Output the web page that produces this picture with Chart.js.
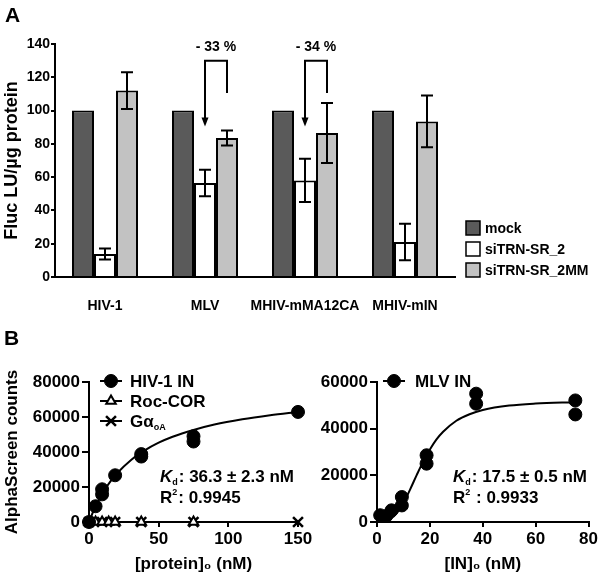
<!DOCTYPE html>
<html><head><meta charset="utf-8">
<script src="https://cdn.jsdelivr.net/npm/chart.js@4.4.1/dist/chart.umd.min.js"></script>
<style>
html,body{margin:0;padding:0;background:#fff;width:600px;height:576px;overflow:hidden;position:relative}
canvas{position:absolute}
#cA{left:0;top:0}
#cB1{left:0;top:330px}
#cB2{left:300px;top:330px}
.lbl{position:absolute;font:bold 21px 'Liberation Sans',Arial,sans-serif;color:#000;z-index:5}
</style></head><body>
<canvas id="cA" width="600" height="320"></canvas>
<canvas id="cB1" width="330" height="246"></canvas>
<canvas id="cB2" width="300" height="246"></canvas>
<div class="lbl" style="left:5px;top:3px">A</div>
<div class="lbl" style="left:4px;top:326px">B</div>
<script>
// ---------- Panel A data ----------
const categories = ['HIV-1', 'MLV', 'MHIV-mMA12CA', 'MHIV-mIN'];
const seriesNamesA = ['mock', 'siTRN-SR_2', 'siTRN-SR_2MM'];
const mockValues = [100, 100, 100, 100];
const siValues = [13.8, 56.5, 58, 21];
const siErrors = [3.3, 8, 13, 11];
const mmValues = [112, 83.5, 86.5, 93.5];
const mmErrors = [11, 4.5, 18, 15.5];
const reductionLabels = ['', '- 33 %', '- 34 %', ''];
const yTicksA = [0, 20, 40, 60, 80, 100, 120, 140];

// ---------- Panel B (left) data ----------
const hivX = [0, 4.7, 9.4, 9.4, 18.75, 37.5, 37.5, 75, 75, 150];
const hivY = [0, 9000, 18700, 15800, 26700, 38800, 37400, 49000, 46000, 62900];
const rocX = [0, 4.7, 9.4, 14.1, 18.75, 37.5, 75];
const rocY = [0, 0, 0, 0, 0, 0, 0];
const gaX = [0, 9.4, 18.75, 37.5, 75, 150];
const gaY = [0, 0, 0, 0, 0, 0];
const hivFitX = [0, 2.5, 5, 10, 15, 20, 30, 40, 50, 60, 75, 90, 110, 130, 150];
const hivFitY = [0, 5000, 9500, 16900, 22800, 27700, 35300, 40900, 45300, 48700, 52600, 55700, 58700, 61000, 62900];
const xTicksB1 = [0, 50, 100, 150];
const yTicksB1 = [0, 20000, 40000, 60000, 80000];
const seriesNamesB1 = ['HIV-1 IN', 'Roc-COR', 'Gα_oA'];
const kdTextB1 = ': 36.3 ± 2.3 nM';
const r2TextB1 = ': 0.9945';

// ---------- Panel B (right) data ----------
const mlvX = [1.2, 3.5, 5.5, 9.4, 9.4, 18.75, 18.75, 37.5, 37.5, 75, 75];
const mlvY = [2900, 2600, 5000, 10700, 7100, 28600, 25000, 55000, 50700, 52100, 46100];
const mlvFitX = [0, 2.5, 5, 7.5, 10, 12.5, 15, 17.5, 20, 22.5, 25, 30, 35, 40, 50, 60, 75];
const mlvFitY = [0, 150, 1200, 3800, 8200, 13900, 20100, 26000, 31100, 35400, 38700, 43400, 46200, 48000, 49900, 50750, 51350];
const xTicksB2 = [0, 20, 40, 60, 80];
const yTicksB2 = [0, 20000, 40000, 60000];
const seriesNamesB2 = ['MLV IN'];
const kdTextB2 = ': 17.5 ± 0.5 nM';
const r2TextB2 = ' : 0.9933';

const SANS = "'Liberation Sans',Arial,sans-serif";

function drawRich(ctx, parts, x, y, size, family) {
  let cx = x;
  ctx.save();
  ctx.textBaseline = 'middle'; ctx.textAlign = 'left'; ctx.fillStyle = '#000';
  for (const p of parts) {
    const s = (p.sub || p.sup) ? Math.round(size * 0.5) : size;
    ctx.font = (p.italic ? 'italic ' : '') + 'bold ' + s + 'px ' + family;
    const dy = p.sub ? size * 0.32 : (p.sup ? -size * 0.35 : 0);
    ctx.fillText(p.t, cx, y + dy);
    cx += ctx.measureText(p.t).width + (p.sub || p.sup ? 1 : 0);
  }
  ctx.restore();
}
function labelParts(label) {
  const i = label.indexOf('_');
  if (i < 0) return [{t: label}];
  return [{t: label.slice(0, i)}, {t: label.slice(i + 1), sub: true}];
}

// ---------- Panel A ----------
const pluginA = {
  id: 'pluginA',
  afterDatasetsDraw(chart) {
    const ctx = chart.ctx, ys = chart.scales.y;
    ctx.save();
    ctx.strokeStyle = '#000'; ctx.fillStyle = '#000'; ctx.lineWidth = 2;
    // error bars
    chart.data.datasets.forEach((ds, d) => {
      if (!ds.errors) return;
      chart.getDatasetMeta(d).data.forEach((el, i) => {
        const v = ds.data[i], e = ds.errors[i];
        const yt = ys.getPixelForValue(v + e), yb = ys.getPixelForValue(v - e);
        ctx.beginPath();
        ctx.moveTo(el.x, yt); ctx.lineTo(el.x, yb);
        ctx.moveTo(el.x - 6, yt); ctx.lineTo(el.x + 6, yt);
        ctx.moveTo(el.x - 6, yb); ctx.lineTo(el.x + 6, yb);
        ctx.stroke();
      });
    });
    // reduction brackets
    const m1 = chart.getDatasetMeta(1).data, m2 = chart.getDatasetMeta(2).data;
    reductionLabels.forEach((lab, i) => {
      if (!lab) return;
      const xl = m1[i].x, xr = m2[i].x;
      const yTop = ys.getPixelForValue(130), yTip = ys.getPixelForValue(90.5), yR = ys.getPixelForValue(110.5);
      ctx.beginPath();
      ctx.moveTo(xr, yR); ctx.lineTo(xr, yTop); ctx.lineTo(xl, yTop); ctx.lineTo(xl, yTip - 7);
      ctx.stroke();
      ctx.beginPath();
      ctx.moveTo(xl - 3.5, yTip - 9); ctx.lineTo(xl + 3.5, yTip - 9); ctx.lineTo(xl, yTip); ctx.closePath();
      ctx.fill();
      ctx.font = 'bold 14px ' + SANS; ctx.textAlign = 'center'; ctx.textBaseline = 'middle';
      ctx.fillText(lab, (xl + xr) / 2, ys.getPixelForValue(138));
    });
    // legend
    chart.data.datasets.forEach((ds, d) => {
      const y = 228 + d * 21;
      ctx.fillStyle = ds.backgroundColor;
      ctx.fillRect(466, y - 7, 14, 14);
      ctx.lineWidth = 1.5; ctx.strokeStyle = '#000';
      ctx.strokeRect(466, y - 7, 14, 14);
      ctx.fillStyle = '#000';
      ctx.font = 'bold 14px ' + SANS; ctx.textAlign = 'left'; ctx.textBaseline = 'middle';
      ctx.fillText(ds.label, 485, y + 1);
    });
    ctx.restore();
  }
};

new Chart(document.getElementById('cA'), {
  type: 'bar',
  data: {
    labels: categories,
    datasets: [
      {label: seriesNamesA[0], data: mockValues, backgroundColor: '#5a5a5a'},
      {label: seriesNamesA[1], data: siValues, errors: siErrors, backgroundColor: '#ffffff'},
      {label: seriesNamesA[2], data: mmValues, errors: mmErrors, backgroundColor: '#c2c2c2'}
    ].map(d => Object.assign(d, {borderColor: '#000', borderWidth: 2, categoryPercentage: 0.66, barPercentage: 1.0}))
  },
  options: {
    responsive: false, animation: false, devicePixelRatio: 1,
    layout: {padding: {left: 0, top: 44, right: 145, bottom: 0}},
    plugins: {legend: {display: false}, tooltip: {enabled: false}},
    scales: {
      x: {
        grid: {display: false},
        border: {display: true, color: '#000', width: 2},
        ticks: {color: '#000', font: {family: SANS, size: 14, weight: 'bold'}, padding: 13, maxRotation: 0, autoSkip: false},
        afterFit: s => { s.height = 43; }
      },
      y: {
        min: 0, max: 140,
        afterBuildTicks: s => { s.ticks = yTicksA.map(v => ({value: v})); },
        grid: {drawOnChartArea: false, drawTicks: true, tickLength: 4, color: '#000', lineWidth: 2},
        border: {display: true, color: '#000', width: 2},
        ticks: {color: '#000', font: {family: SANS, size: 14, weight: 'bold'}, padding: 1, callback: v => String(v)},
        title: {display: true, text: 'Fluc LU/µg protein', color: '#000', font: {family: SANS, size: 18, weight: 'bold'}, padding: {top: 1, bottom: 0}},
        afterFit: s => { s.width = 55; }
      }
    }
  },
  plugins: [pluginA]
});

// ---------- Panel B helpers ----------
function pts(xs, ys) { return xs.map((x, i) => ({x: x, y: ys[i]})); }
function legendPlugin(id, lx1, lx2, tx, y0, dy, kdX, kdText, r2Text) {
  return {
    id: id,
    afterDatasetsDraw(chart) {
      const ctx = chart.ctx;
      ctx.save();
      let row = 0;
      chart.data.datasets.forEach(ds => {
        if (!ds.inLegend) return;
        const y = y0 + row * dy;
        ctx.strokeStyle = '#000'; ctx.lineWidth = 2;
        ctx.beginPath(); ctx.moveTo(lx1, y); ctx.lineTo(lx2, y); ctx.stroke();
        ctx.fillStyle = ds.pointBackgroundColor; ctx.strokeStyle = '#000';
        ctx.lineWidth = ds.pointBorderWidth;
        Chart.helpers.drawPoint(ctx, {pointStyle: ds.pointStyle, radius: ds.pointRadius, rotation: 0, borderWidth: ds.pointBorderWidth}, (lx1 + lx2) / 2, y);
        drawRich(ctx, labelParts(ds.label), tx, y + 1, 17, SANS);
        row++;
      });
      drawRich(ctx, [{t: 'K', italic: true}, {t: 'd', sub: true}, {t: kdText}], kdX, 147, 17, SANS);
      drawRich(ctx, [{t: 'R'}, {t: '2', sup: true}, {t: r2Text}], kdX, 168, 17, SANS);
      ctx.restore();
    }
  };
}
function axisB(min, max, ticks, tickLen, extra) {
  return Object.assign({
    type: 'linear', min: min, max: max,
    afterBuildTicks: s => { s.ticks = ticks.map(v => ({value: v})); },
    grid: {drawOnChartArea: false, drawTicks: true, tickLength: tickLen, color: '#000', lineWidth: 2},
    border: {display: true, color: '#000', width: 2},
    ticks: {color: '#000', font: {family: SANS, size: 17, weight: 'bold'}, padding: 2, callback: v => String(v), maxRotation: 0, autoSkip: false}
  }, extra);
}

// ---------- Panel B (left) ----------
new Chart(document.getElementById('cB1'), {
  type: 'scatter',
  data: {
    datasets: [
      {label: seriesNamesB1[0], inLegend: true, data: pts(hivX, hivY), pointStyle: 'circle', pointRadius: 6.5, pointBackgroundColor: '#000', pointBorderColor: '#000', pointBorderWidth: 1, showLine: false, clip: false},
      {label: seriesNamesB1[1], inLegend: true, data: pts(rocX, rocY), pointStyle: 'triangle', pointRadius: 5.5, pointBackgroundColor: '#fff', pointBorderColor: '#000', pointBorderWidth: 2, showLine: true, borderColor: '#000', borderWidth: 2, clip: false},
      {label: seriesNamesB1[2], inLegend: true, data: pts(gaX, gaY), pointStyle: 'crossRot', pointRadius: 7, pointBackgroundColor: '#000', pointBorderColor: '#000', pointBorderWidth: 2.5, showLine: true, borderColor: '#000', borderWidth: 2, clip: false},
      {label: 'HIV-1 IN fit', data: pts(hivFitX, hivFitY), showLine: true, pointRadius: 0, borderColor: '#000', borderWidth: 2, cubicInterpolationMode: 'monotone', clip: false}
    ]
  },
  options: {
    responsive: false, animation: false, devicePixelRatio: 1,
    layout: {padding: {left: 0, top: 52, right: 32, bottom: 0}},
    plugins: {legend: {display: false}, tooltip: {enabled: false}},
    scales: {
      x: axisB(0, 150, xTicksB1, 5, {
        title: {display: true, text: '[protein]₀ (nM)', color: '#000', font: {family: SANS, size: 17, weight: 'bold'}, padding: {top: 0, bottom: 1}},
        afterFit: s => { s.height = 54; }
      }),
      y: axisB(0, 80000, yTicksB1, 7, {
        title: {display: true, text: 'AlphaScreen counts', color: '#000', font: {family: SANS, size: 17, weight: 'bold'}, padding: {top: 2, bottom: 0}},
        afterFit: s => { s.width = 89; }
      })
    }
  },
  plugins: [legendPlugin('legB1', 100, 122, 130, 51, 20, 160, kdTextB1, r2TextB1)]
});

// ---------- Panel B (right) ----------
new Chart(document.getElementById('cB2'), {
  type: 'scatter',
  data: {
    datasets: [
      {label: seriesNamesB2[0], inLegend: true, data: pts(mlvX, mlvY), pointStyle: 'circle', pointRadius: 6.5, pointBackgroundColor: '#000', pointBorderColor: '#000', pointBorderWidth: 1, showLine: false, clip: false},
      {label: 'MLV IN fit', data: pts(mlvFitX, mlvFitY), showLine: true, pointRadius: 0, borderColor: '#000', borderWidth: 2, cubicInterpolationMode: 'monotone', clip: false}
    ]
  },
  options: {
    responsive: false, animation: false, devicePixelRatio: 1,
    layout: {padding: {left: 0, top: 52, right: 11, bottom: 0}},
    plugins: {legend: {display: false}, tooltip: {enabled: false}},
    scales: {
      x: axisB(0, 80, xTicksB2, 5, {
        title: {display: true, text: '[IN]₀ (nM)', color: '#000', font: {family: SANS, size: 17, weight: 'bold'}, padding: {top: 0, bottom: 1}},
        afterFit: s => { s.height = 54; }
      }),
      y: axisB(0, 60000, yTicksB2, 7, {
        afterFit: s => { s.width = 77; }
      })
    }
  },
  plugins: [legendPlugin('legB2', 83, 105, 115, 51, 20, 153, kdTextB2, r2TextB2)]
});
</script>
</body></html>
